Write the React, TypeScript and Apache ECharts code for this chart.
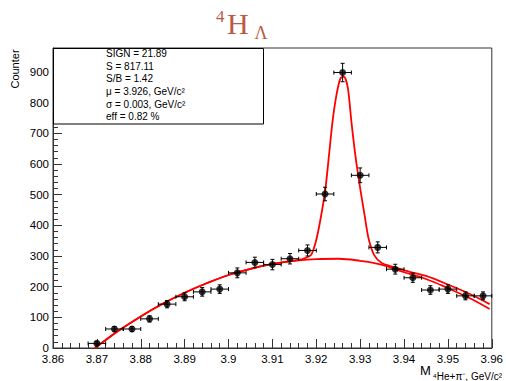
import React, { useEffect, useRef } from "react";
import * as echarts from "echarts";

// ---- data ----
const binCenters = [3.870, 3.874, 3.878, 3.882, 3.886, 3.890, 3.894, 3.898, 3.902, 3.906, 3.910, 3.914, 3.918, 3.922, 3.926, 3.930, 3.934, 3.938, 3.942, 3.946, 3.950, 3.954, 3.958];
const counts = [15, 62, 62, 95, 143, 167, 183, 192, 245, 279, 272, 291, 318, 502, 898, 563, 328, 257, 229, 189, 192, 170, 170];
const countErrors = [5, 8, 8, 10, 12, 13, 14, 14, 16, 17, 17, 17, 18, 22, 30, 24, 18, 16, 15, 14, 14, 13, 13];
const binHalfWidth = 0.002;

const fitX = [3.8695, 3.872, 3.875, 3.880, 3.885, 3.890, 3.895, 3.900, 3.905, 3.910, 3.915, 3.917, 3.9188, 3.9199, 3.921, 3.9221, 3.9229, 3.9237, 3.9246, 3.9255, 3.9263, 3.9272, 3.928, 3.9289, 3.930, 3.931, 3.9319, 3.9332, 3.935, 3.9376, 3.940, 3.945, 3.950, 3.955, 3.9595];
const fitY = [0, 26, 57, 103, 144, 180, 211, 238, 258, 274, 285, 291, 303, 347, 423, 521, 629, 738, 825, 879, 885, 847, 738, 629, 521, 434, 358, 303, 276, 264, 253, 235, 207, 176, 143];

const bgX = [3.8695, 3.872, 3.875, 3.880, 3.885, 3.890, 3.895, 3.900, 3.905, 3.910, 3.915, 3.920, 3.925, 3.930, 3.935, 3.940, 3.945, 3.950, 3.955, 3.9595];
const bgY = [0, 26, 57, 103, 144, 180, 211, 238, 258, 274, 284, 290, 291, 284, 271, 247, 225, 195, 162, 127];

const statLines = [
  "SIGN = 21.89",
  "S = 817.11",
  "S/B = 1.42",
  "\u03bc = 3.926, GeV/c\u00b2",
  "\u03c3 = 0.003, GeV/c\u00b2",
  "eff = 0.82 %",
];

const SANS = '"Liberation Sans", Arial, Helvetica, sans-serif';
const SERIF = '"Liberation Serif", "Times New Roman", serif';
const TITLE_COLOR = "#bb5a43";

export default function App() {
  const ref = useRef<HTMLDivElement>(null);

  useEffect(() => {
    if (!ref.current) return;
    const chart = echarts.init(ref.current, null, { renderer: "svg" });

    const points = binCenters.map((x, i) => [x, counts[i], countErrors[i]]);
    const fitData = fitX.map((x, i) => [x, fitY[i]]);
    const bgData = bgX.map((x, i) => [x, bgY[i]]);

    const graphics: any[] = [
      // title 4H_Lambda
      { type: "text", x: 216, y: 16, style: { text: "4", font: `17px ${SERIF}`, fill: TITLE_COLOR, textAlign: "left", textVerticalAlign: "middle" } },
      { type: "text", x: 227, y: 23.5, style: { text: "H", font: `30px ${SERIF}`, fill: TITLE_COLOR, textAlign: "left", textVerticalAlign: "middle" } },
      { type: "text", x: 254.5, y: 32.5, style: { text: "\u039b", font: `18px ${SERIF}`, fill: TITLE_COLOR, textAlign: "left", textVerticalAlign: "middle" } },
      // y axis title
      { type: "text", x: 15, y: 69, rotation: Math.PI / 2, style: { text: "Counter", font: `11px ${SANS}`, fill: "#000", textAlign: "center", textVerticalAlign: "middle" } },
      // x axis title
      { type: "text", x: 420, y: 370.5, style: { text: "M", font: `13px ${SANS}`, fill: "#000", textAlign: "left", textVerticalAlign: "middle" } },
      { type: "text", x: 502, y: 376, style: { text: "\u2074He+\u03c0\u207b, GeV/c\u00b2", font: `10px ${SANS}`, fill: "#000", textAlign: "right", textVerticalAlign: "middle" } },
      // stats box
      { type: "rect", z: 100, shape: { x: 53.5, y: 48.5, width: 210, height: 75.5 }, style: { fill: "#fff", stroke: "#000", lineWidth: 1 } },
      ...statLines.map((t, i) => ({
        type: "text",
        z: 101,
        x: 106,
        y: 53.3 + i * 12.7,
        style: { text: t, font: `10px ${SANS}`, fill: "#000", textAlign: "left", textVerticalAlign: "middle" },
      })),
    ];

    chart.setOption({
      animation: false,
      backgroundColor: "#fff",
      grid: { left: 53, right: 10, top: 48, bottom: 33, show: true, borderColor: "#333", borderWidth: 1, backgroundColor: "transparent" },
      xAxis: {
        type: "value",
        min: 3.86,
        max: 3.96,
        interval: 0.01,
        axisLine: { show: true, onZero: false, lineStyle: { color: "#333", width: 1 } },
        axisTick: { show: true, inside: true, length: 9, lineStyle: { color: "#333" } },
        minorTick: { show: true, splitNumber: 5, length: 5, lineStyle: { color: "#333" } },
        splitLine: { show: false },
        axisLabel: {
          margin: 5,
          color: "#000",
          fontFamily: SANS,
          fontSize: 11.5,
          formatter: (v: number) => String(+v.toFixed(2)),
        },
      },
      yAxis: {
        type: "value",
        min: 0,
        max: 978,
        interval: 100,
        axisLine: { show: true, lineStyle: { color: "#333", width: 1 } },
        axisTick: { show: true, inside: true, length: 9, lineStyle: { color: "#333" } },
        minorTick: { show: true, splitNumber: 5, length: 5, lineStyle: { color: "#333" } },
        splitLine: { show: false },
        axisLabel: { margin: 4, color: "#000", fontFamily: SANS, fontSize: 11.5, showMaxLabel: false },
      },
      graphic: graphics,
      series: [
        {
          type: "line",
          data: bgData,
          showSymbol: false,
          smooth: 0.4,
          lineStyle: { color: "#ff0000", width: 1.8 },
          z: 3,
        },
        {
          type: "line",
          data: fitData,
          showSymbol: false,
          smooth: 0.25,
          lineStyle: { color: "#ff0000", width: 1.8 },
          z: 3,
        },
        {
          type: "custom",
          data: points,
          encode: { x: 0, y: 1 },
          z: 4,
          renderItem: (params: any, api: any) => {
            const x = api.value(0);
            const y = api.value(1);
            const e = api.value(2);
            const c = api.coord([x, y]);
            const top = api.coord([x, y + e]);
            const bot = api.coord([x, y - e]);
            const l = api.coord([x - binHalfWidth, y]);
            const r = api.coord([x + binHalfWidth, y]);
            const st = { stroke: "#000", lineWidth: 1 };
            const cap = 2;
            return {
              type: "group",
              children: [
                { type: "line", shape: { x1: c[0], y1: top[1], x2: c[0], y2: bot[1] }, style: st },
                { type: "line", shape: { x1: c[0] - cap, y1: top[1], x2: c[0] + cap, y2: top[1] }, style: st },
                { type: "line", shape: { x1: c[0] - cap, y1: bot[1], x2: c[0] + cap, y2: bot[1] }, style: st },
                { type: "line", shape: { x1: l[0], y1: c[1], x2: r[0], y2: c[1] }, style: st },
                { type: "line", shape: { x1: l[0], y1: c[1] - cap, x2: l[0], y2: c[1] + cap }, style: st },
                { type: "line", shape: { x1: r[0], y1: c[1] - cap, x2: r[0], y2: c[1] + cap }, style: st },
              ],
            };
          },
        },
        {
          type: "scatter",
          data: points.map((p) => [p[0], p[1]]),
          symbol: "circle",
          symbolSize: 7,
          itemStyle: { color: "#000" },
          z: 5,
        },
      ],
    });

    return () => chart.dispose();
  }, []);

  return <div ref={ref} style={{ width: 506, height: 381, position: "absolute", left: 0, top: 0 }} />;
}
